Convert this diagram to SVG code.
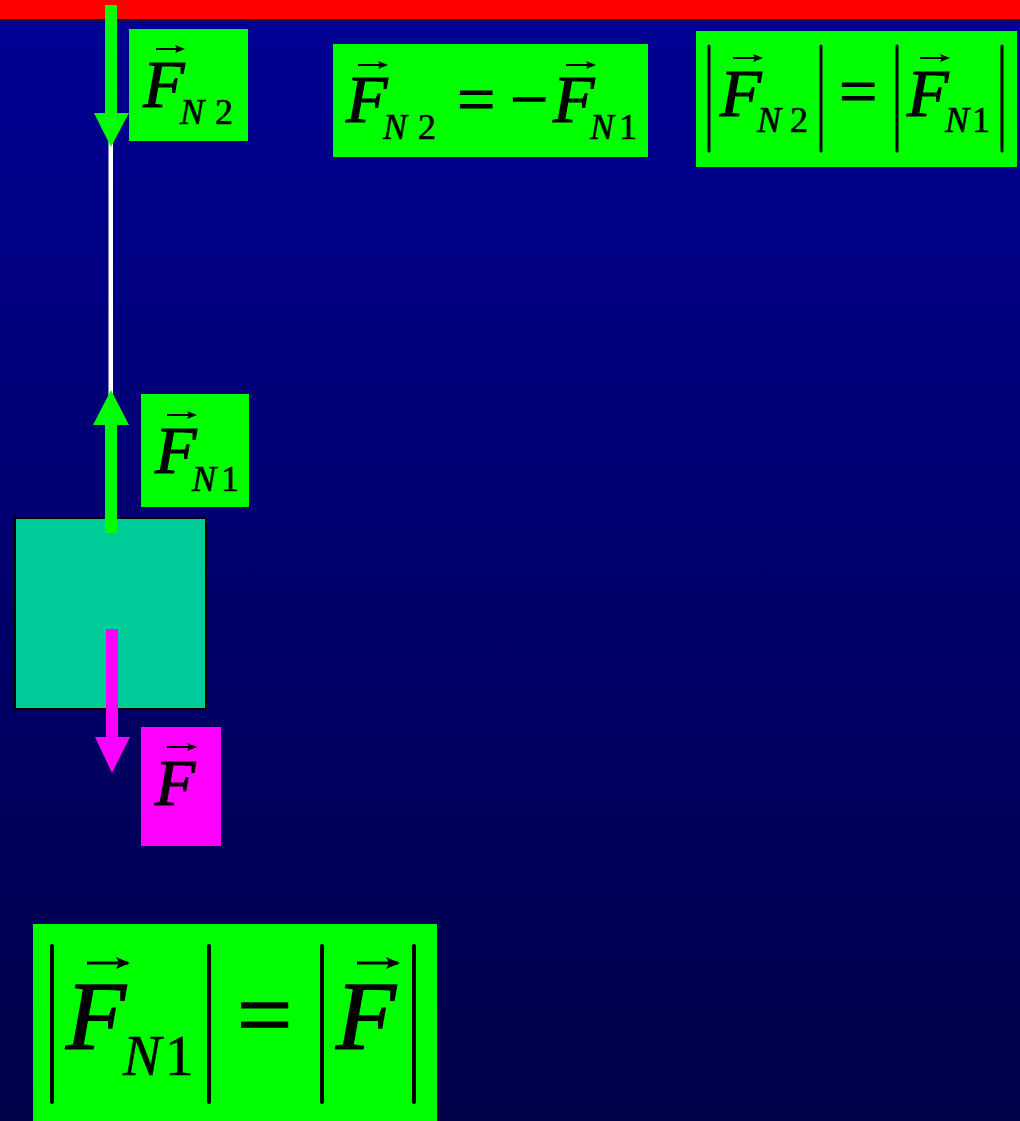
<svg xmlns="http://www.w3.org/2000/svg" width="1020" height="1121" viewBox="0 0 1020 1121">
<defs>
<linearGradient id="bg" x1="0" y1="0" x2="0" y2="1">
<stop offset="0" stop-color="#000094"/>
<stop offset="1" stop-color="#000048"/>
</linearGradient>
<marker id="vec" markerWidth="10" markerHeight="8" refX="8" refY="4" orient="auto" markerUnits="userSpaceOnUse">
<path d="M0,0 L10,4 L0,8 L2,4 Z" fill="#000"/>
</marker>
<marker id="vecL" markerWidth="14" markerHeight="12" refX="12" refY="6" orient="auto" markerUnits="userSpaceOnUse">
<path d="M0,0 L14,6 L0,12 L3,6 Z" fill="#000"/>
</marker>
</defs>
<style>
.f{font-family:"Liberation Serif","Times New Roman",serif;fill:#000;stroke:#000;stroke-width:1.1}
.s{stroke-width:0.6}
.i{font-style:italic}
.n{font-style:normal}
.k{letter-spacing:-8px}
.v{stroke:#000;stroke-width:2;fill:none}
.vb{stroke:#000;stroke-width:3;fill:none}
.bar{stroke:#000;stroke-width:3;stroke-linecap:round}
.barL{stroke:#000;stroke-width:4;stroke-linecap:round}
.g{fill:#00FF00}
.m{fill:#FF00FF}
</style>
<rect x="0" y="0" width="1020" height="1121" fill="url(#bg)"/>
<rect x="0" y="0" width="1020" height="19" fill="#FF0000"/>
<rect x="0" y="19" width="1020" height="1.5" fill="#300000"/>

<g id="block">
<rect x="15" y="518" width="191" height="191" fill="#00CC99" stroke="#000" stroke-width="2"/>
</g>

<g id="connectors">
<rect x="108.5" y="140" width="4.5" height="260" fill="#FFFFFF"/>
<path d="M105,5 H117 V113 H129 L111,147 L94,113 H105 Z" fill="#00FF00"/>
<path d="M105,533 V425 H93 L111,390 L129,425 H117 V533 Z" fill="#00FF00"/>
<path d="M106,629 H118 V737 H130 L112,773 L95,737 H106 Z" fill="#FF00FF"/>
</g>

<g id="label-FN2">
<rect x="129" y="29" width="119" height="112" class="g"/>
<line x1="156" y1="49" x2="183" y2="49" class="v" marker-end="url(#vec)"/>
<text class="f i" font-size="68"><tspan class="k" x="143" y="107">F</tspan><tspan class="s" x="180" y="124" font-size="36">N</tspan><tspan class="s n" x="215" y="124" font-size="36">2</tspan></text>
</g>

<g id="eq-vector">
<rect x="333" y="44" width="315" height="113" class="g"/>
<line x1="358" y1="65" x2="386" y2="65" class="v" marker-end="url(#vec)"/>
<line x1="566" y1="65" x2="594" y2="65" class="v" marker-end="url(#vec)"/>
<text class="f i" font-size="68"><tspan class="k" x="346" y="122">F</tspan><tspan class="s" x="383" y="139" font-size="36">N</tspan><tspan class="s n" x="418" y="139" font-size="36">2</tspan><tspan class="n" x="457" y="122">=</tspan><tspan class="n" x="510" y="122">−</tspan><tspan class="k" x="553" y="122">F</tspan><tspan class="s" x="590" y="139" font-size="36">N</tspan><tspan class="s n" x="619" y="139" font-size="36">1</tspan></text>
</g>

<g id="eq-magnitude-top">
<rect x="696" y="31" width="321" height="136" class="g"/>
<line x1="709" y1="46" x2="709" y2="151" class="bar"/>
<line x1="821" y1="46" x2="821" y2="151" class="bar"/>
<line x1="897" y1="46" x2="897" y2="151" class="bar"/>
<line x1="1002" y1="46" x2="1002" y2="151" class="bar"/>
<line x1="733" y1="58" x2="761" y2="58" class="v" marker-end="url(#vec)"/>
<line x1="920" y1="58" x2="948" y2="58" class="v" marker-end="url(#vec)"/>
<text class="f i" font-size="68"><tspan class="k" x="720" y="116">F</tspan><tspan class="s" x="757" y="132" font-size="36">N</tspan><tspan class="s n" x="790" y="132" font-size="36">2</tspan><tspan class="n" x="839" y="114">=</tspan><tspan class="k" x="907" y="116">F</tspan><tspan class="s" x="945" y="132" font-size="36">N</tspan><tspan class="s n" x="972" y="132" font-size="36">1</tspan></text>
</g>

<g id="label-FN1">
<rect x="141" y="394" width="108" height="113" class="g"/>
<line x1="167" y1="415" x2="195" y2="415" class="v" marker-end="url(#vec)"/>
<text class="f i" font-size="68"><tspan class="k" x="155" y="473">F</tspan><tspan class="s" x="192" y="491" font-size="36">N</tspan><tspan class="s n" x="221" y="491" font-size="36">1</tspan></text>
</g>

<g id="label-F">
<rect x="141" y="727" width="80" height="119" class="m"/>
<line x1="167" y1="747" x2="195" y2="747" class="v" marker-end="url(#vec)"/>
<text x="155" y="805" class="f i" font-size="66">F</text>
</g>

<g id="eq-magnitude-bottom">
<rect x="33" y="924" width="404" height="197" class="g"/>
<line x1="52" y1="946" x2="52" y2="1102" class="barL"/>
<line x1="209" y1="946" x2="209" y2="1102" class="barL"/>
<line x1="322" y1="946" x2="322" y2="1102" class="barL"/>
<line x1="414" y1="946" x2="414" y2="1102" class="barL"/>
<line x1="87" y1="963" x2="128" y2="963" class="vb" marker-end="url(#vecL)"/>
<line x1="357" y1="963" x2="398" y2="963" class="vb" marker-end="url(#vecL)"/>
<text class="f i" font-size="98" style="stroke-width:1.5"><tspan style="letter-spacing:-10px" x="66" y="1049">F</tspan><tspan class="s" x="123" y="1075" font-size="57">N</tspan><tspan class="s n" x="165" y="1075" font-size="57">1</tspan><tspan class="n" x="237" y="1047">=</tspan><tspan x="336" y="1049">F</tspan></text>
</g>
</svg>
